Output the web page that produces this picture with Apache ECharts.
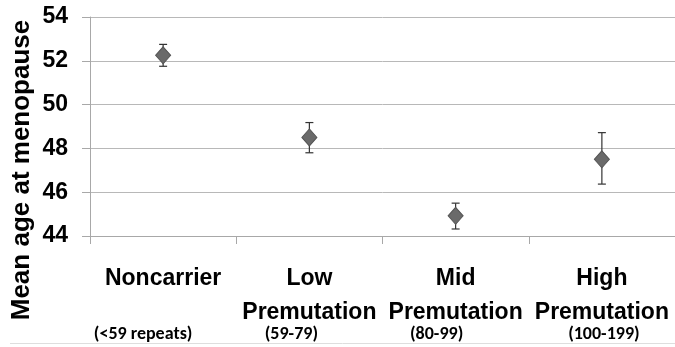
<!DOCTYPE html>
<html>
<head>
<meta charset="utf-8">
<script src="https://cdn.jsdelivr.net/npm/echarts@6/dist/echarts.min.js"></script>
<style>
html,body{margin:0;padding:0;background:#fff;}
#chart{width:675px;height:347px;}
</style>
</head>
<body>
<div id="chart"></div>
<script>
// ---- data ----
var categories = ['Noncarrier', 'Low\nPremutation', 'Mid\nPremutation', 'High\nPremutation'];
var subLabels = ['(<59 repeats)', '(59-79)', '(80-99)', '(100-199)'];
var meanAge = [52.25, 48.5, 44.92, 47.5];
var errLow = [51.75, 47.8, 44.32, 46.37];
var errHigh = [52.75, 49.18, 45.5, 48.72];
var yTicks = [44, 46, 48, 50, 52, 54];
var yTitle = 'Mean age at menopause';

// ---- layout (pixel offsets of the sub labels from category centres) ----
var subOffsets = [-20, -18, -19, 2];

var chart = echarts.init(document.getElementById('chart'), null, {renderer: 'canvas'});
var axisGray = '#a8a8a8';
var font = '"Liberation Sans", Arial, sans-serif';

var errData = categories.map(function (c, i) { return [i, errLow[i], errHigh[i]]; });

var option = {
  animation: false,
  grid: {left: 90, top: 17, width: 588, height: 219, containLabel: false},
  xAxis: {
    type: 'category',
    data: categories,
    boundaryGap: true,
    axisLine: {show: true, lineStyle: {color: axisGray, width: 1}},
    axisTick: {show: true, length: 8, alignWithLabel: false, lineStyle: {color: axisGray}},
    axisLabel: {
      interval: 0, margin: 26, color: '#000', fontFamily: font, fontWeight: 'bold',
      fontSize: 23, lineHeight: 34
    },
    splitLine: {show: false}
  },
  yAxis: {
    type: 'value',
    min: yTicks[0], max: yTicks[yTicks.length - 1], interval: yTicks[1] - yTicks[0],
    axisLine: {show: true, lineStyle: {color: axisGray, width: 1}},
    axisTick: {show: true, length: 8, lineStyle: {color: axisGray}},
    axisLabel: {margin: 22, color: '#000', fontFamily: font, fontWeight: 'bold', fontSize: 23},
    splitLine: {show: true, lineStyle: {color: '#b8b8b8', width: 1}}
  },
  series: [
    {
      type: 'custom',
      data: errData,
      z: 2,
      renderItem: function (params, api) {
        var x = api.value(0);
        var lo = api.coord([x, api.value(1)]);
        var hi = api.coord([x, api.value(2)]);
        var hw = 4;
        var st = {stroke: '#333', lineWidth: 1.2};
        return {
          type: 'group',
          children: [
            {type: 'line', shape: {x1: lo[0], y1: lo[1], x2: hi[0], y2: hi[1]}, style: st},
            {type: 'line', shape: {x1: lo[0] - hw, y1: lo[1], x2: lo[0] + hw, y2: lo[1]}, style: st},
            {type: 'line', shape: {x1: hi[0] - hw, y1: hi[1], x2: hi[0] + hw, y2: hi[1]}, style: st}
          ]
        };
      }
    },
    {
      type: 'scatter',
      data: meanAge,
      z: 3,
      symbol: 'diamond',
      symbolSize: [15, 17],
      itemStyle: {color: '#6a6a6a', borderColor: '#555', borderWidth: 1, opacity: 1}
    }
  ]
};
chart.setOption(option);

var graphics = [
  {
    type: 'text', x: 22, y: 170, rotation: Math.PI / 2,
    style: {text: yTitle, fill: '#000', font: 'bold 26px ' + font, align: 'center', verticalAlign: 'middle'}
  },
  {
    type: 'line', shape: {x1: 10, y1: 343.5, x2: 675, y2: 343.5},
    style: {stroke: '#dedede', lineWidth: 1}
  }
];
subLabels.forEach(function (t, i) {
  var px = chart.convertToPixel({xAxisIndex: 0}, i);
  graphics.push({
    type: 'text', x: px + subOffsets[i], y: 334,
    style: {text: t, fill: '#000', font: '600 18px Carlito, Lato, "Open Sans", sans-serif', align: 'center', verticalAlign: 'middle'}
  });
});
chart.setOption({graphic: graphics});
</script>
</body>
</html>
